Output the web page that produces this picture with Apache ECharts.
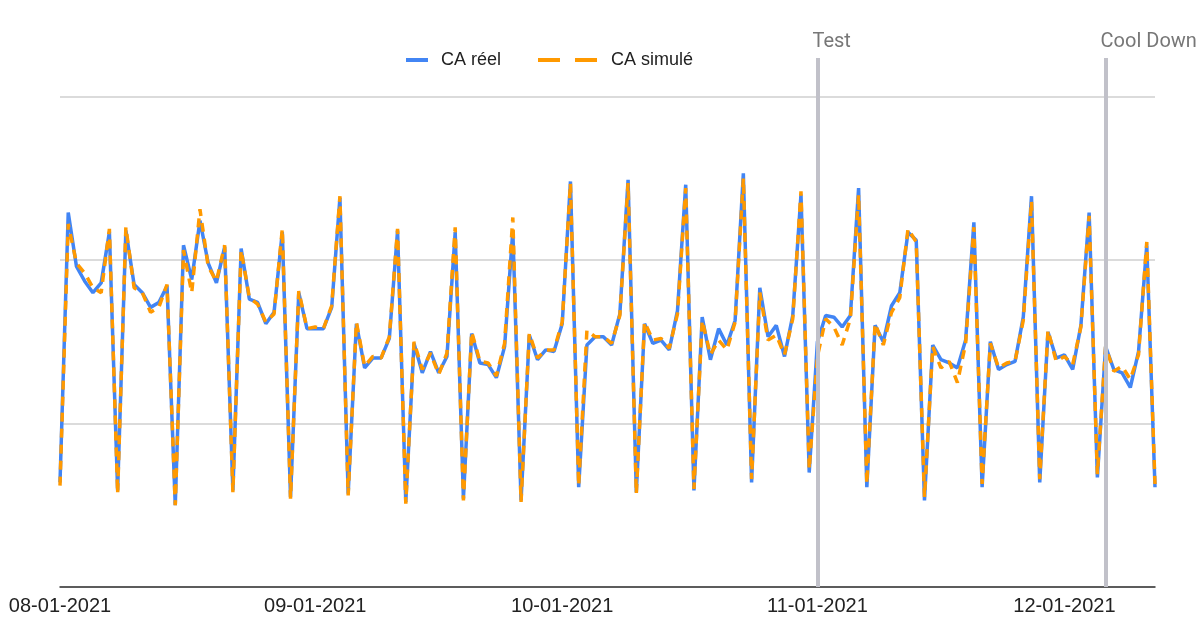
<!DOCTYPE html>
<html>
<head>
<meta charset="utf-8">
<script src="https://cdn.jsdelivr.net/npm/echarts@6/dist/echarts.min.js"></script>
<style>
    html, body { margin: 0; padding: 0; background: #fff; }
    #chart { width: 1200px; height: 620px; }
</style>
</head>
<body>
<div id="chart"></div>
<script>
    // mois affichés : [mois, nb de jours]
    var mois = [['08', 31], ['09', 30], ['10', 31], ['11', 30], ['12', 12]];

    // CA réel par mois
    var reelAout = [0.64, 2.29, 1.96, 1.87, 1.80, 1.86, 2.17, 0.59, 2.18, 1.85, 1.80, 1.71, 1.74, 1.84, 0.50, 2.09, 1.88, 2.24, 1.98, 1.86, 2.08, 0.59, 2.07, 1.76, 1.74, 1.61, 1.68, 2.17, 0.55, 1.80, 1.58];
    var reelSept = [1.58, 1.58, 1.71, 2.38, 0.57, 1.61, 1.34, 1.40, 1.40, 1.52, 2.18, 0.52, 1.49, 1.31, 1.44, 1.31, 1.41, 2.17, 0.54, 1.55, 1.37, 1.36, 1.28, 1.47, 2.18, 0.53, 1.54, 1.39, 1.45, 1.44];
    var reelOct = [1.61, 2.48, 0.61, 1.48, 1.53, 1.53, 1.48, 1.67, 2.49, 0.58, 1.61, 1.49, 1.51, 1.45, 1.69, 2.46, 0.59, 1.65, 1.39, 1.58, 1.48, 1.63, 2.53, 0.64, 1.83, 1.53, 1.60, 1.41, 1.66, 2.40, 0.70];
    var reelNov = [1.50, 1.66, 1.65, 1.59, 1.66, 2.44, 0.61, 1.60, 1.50, 1.72, 1.80, 2.17, 2.12, 0.53, 1.48, 1.39, 1.37, 1.34, 1.51, 2.23, 0.61, 1.50, 1.33, 1.36, 1.38, 1.65, 2.39, 0.64, 1.56, 1.40];
    var reelDec = [1.42, 1.33, 1.60, 2.29, 0.67, 1.47, 1.33, 1.31, 1.22, 1.44, 2.09, 0.61];

    // CA simulé par mois
    var simAout = [0.62, 2.22, 1.98, 1.92, 1.83, 1.80, 2.19, 0.57, 2.20, 1.83, 1.80, 1.68, 1.71, 1.85, 0.50, 2.06, 1.80, 2.31, 1.96, 1.87, 2.09, 0.58, 2.06, 1.77, 1.73, 1.62, 1.67, 2.19, 0.54, 1.81, 1.58];
    var simSept = [1.59, 1.58, 1.72, 2.39, 0.56, 1.62, 1.35, 1.41, 1.40, 1.53, 2.19, 0.51, 1.50, 1.33, 1.43, 1.30, 1.43, 2.20, 0.53, 1.56, 1.38, 1.37, 1.29, 1.49, 2.26, 0.52, 1.55, 1.40, 1.45, 1.45];
    var simOct = [1.62, 2.47, 0.62, 1.57, 1.53, 1.53, 1.49, 1.66, 2.47, 0.57, 1.62, 1.51, 1.52, 1.46, 1.67, 2.44, 0.60, 1.63, 1.42, 1.51, 1.45, 1.62, 2.50, 0.66, 1.80, 1.51, 1.54, 1.42, 1.64, 2.42, 0.72];
    var simNov = [1.41, 1.64, 1.59, 1.48, 1.64, 2.40, 0.63, 1.61, 1.48, 1.68, 1.77, 2.19, 2.11, 0.55, 1.47, 1.34, 1.38, 1.25, 1.49, 2.20, 0.63, 1.49, 1.34, 1.37, 1.38, 1.63, 2.36, 0.66, 1.57, 1.38];
    var simDec = [1.41, 1.36, 1.59, 2.27, 0.69, 1.47, 1.32, 1.35, 1.27, 1.42, 2.11, 0.63];

    // repères verticaux
    var reperes = [
        { name: 'Test', date: '11-01-2021' },
        { name: 'Cool Down', date: '12-06-2021' }
    ];

    var jours = [];
    mois.forEach(function (m) {
        for (var d = 1; d <= m[1]; d++) {
            jours.push(m[0] + '-' + (d < 10 ? '0' + d : d) + '-2021');
        }
    });
    var reel = [].concat(reelAout, reelSept, reelOct, reelNov, reelDec);
    var simule = [].concat(simAout, simSept, simOct, simNov, simDec);

    var myChart = echarts.init(document.getElementById('chart'));
    myChart.setOption({
        animation: false,
        legend: [{
            data: ['CA réel'],
            left: 401,
            top: 46,
            icon: 'rect',
            itemWidth: 22,
            itemHeight: 4,
            textStyle: { color: '#222', fontSize: 18, fontFamily: 'Liberation Sans', padding: [0, 0, 0, 8] }
        }, {
            data: ['CA simulé'],
            left: 533,
            top: 46,
            icon: 'path://M0,0h22v4h-22z M37,0h22v4h-22z',
            itemWidth: 59,
            itemHeight: 4,
            textStyle: { color: '#222', fontSize: 18, fontFamily: 'Liberation Sans', padding: [0, 0, 0, 9] }
        }],
        grid: {
            left: 60,
            right: 45,
            top: 58,
            bottom: 33
        },
        xAxis: {
            type: 'category',
            boundaryGap: false,
            data: jours,
            axisLine: { lineStyle: { color: '#333', width: 1.5 } },
            axisTick: { show: false },
            axisLabel: {
                interval: function (i, v) { return v.slice(3, 5) === '01'; },
                color: '#222',
                fontSize: 20,
                fontFamily: 'Liberation Sans',
                margin: 9
            }
        },
        yAxis: {
            type: 'value',
            min: 0,
            max: 3.235,
            interval: 1,
            axisLabel: { show: false },
            axisLine: { show: false },
            axisTick: { show: false },
            splitLine: { showMaxLine: false, lineStyle: { color: '#cfcfcf', width: 1.5 } }
        },
        series: [{
            name: 'CA réel',
            type: 'line',
            data: reel,
            showSymbol: false,
            color: '#4285f4',
            lineStyle: { color: '#4285f4', width: 3.5 },
            markLine: {
                silent: true,
                symbol: ['none', 'none'],
                lineStyle: { color: '#c1c1c9', width: 4, type: 'solid' },
                label: {
                    show: true,
                    position: 'end',
                    formatter: '{b}',
                    align: 'left',
                    offset: [-5, 0],
                    distance: 6,
                    color: '#777',
                    fontSize: 20,
                    fontFamily: 'Roboto'
                },
                emphasis: { disabled: true },
                data: reperes.map(function (r) { return { name: r.name, xAxis: r.date }; })
            }
        }, {
            name: 'CA simulé',
            type: 'line',
            data: simule,
            showSymbol: false,
            color: '#ff9900',
            lineStyle: { color: '#ff9900', width: 3.5, type: [9, 7] }
        }]
    });
</script>
</body>
</html>
